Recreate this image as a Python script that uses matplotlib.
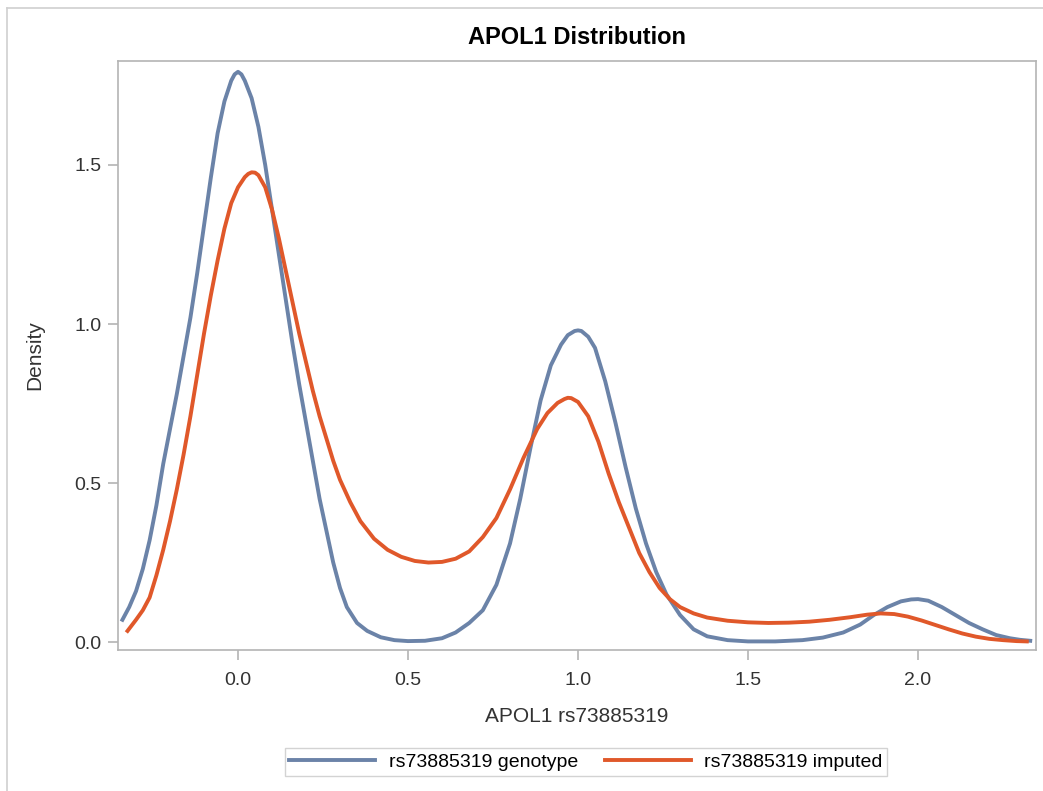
import matplotlib
matplotlib.use("Agg")
import matplotlib.pyplot as plt
from matplotlib.lines import Line2D

plt.rcParams['font.family'] = ['Liberation Sans', 'DejaVu Sans']

# density curves
geno_x = [-0.34, -0.32, -0.30, -0.28, -0.26, -0.24, -0.22, -0.20, -0.18, -0.16,
          -0.14, -0.12, -0.10, -0.08, -0.06, -0.04, -0.02, -0.01, 0.00, 0.01, 0.02, 0.04,
          0.06, 0.08, 0.10, 0.12, 0.14, 0.16, 0.18, 0.20, 0.22, 0.24,
          0.26, 0.28, 0.30, 0.32, 0.35, 0.38, 0.42, 0.46, 0.50, 0.55,
          0.60, 0.64, 0.68, 0.72, 0.76, 0.80, 0.83, 0.86, 0.89, 0.92,
          0.95, 0.97, 0.99, 1.00, 1.01, 1.03, 1.05, 1.08, 1.11, 1.14, 1.17, 1.20,
          1.23, 1.26, 1.30, 1.34, 1.38, 1.44, 1.50, 1.58, 1.66, 1.72,
          1.78, 1.83, 1.87, 1.91, 1.95, 1.98, 2.00, 2.03, 2.07, 2.11, 2.15,
          2.19, 2.23, 2.27, 2.30, 2.33]
geno_y = [0.07, 0.11, 0.16, 0.23, 0.32, 0.43, 0.56, 0.67, 0.78, 0.90,
          1.02, 1.16, 1.31, 1.46, 1.60, 1.70, 1.765, 1.785, 1.793, 1.785, 1.765, 1.71,
          1.62, 1.50, 1.36, 1.22, 1.08, 0.94, 0.81, 0.69, 0.57, 0.45,
          0.35, 0.25, 0.17, 0.11, 0.06, 0.035, 0.015, 0.006, 0.003, 0.004,
          0.012, 0.03, 0.06, 0.10, 0.18, 0.31, 0.45, 0.61, 0.76, 0.87,
          0.935, 0.965, 0.978, 0.98, 0.978, 0.96, 0.925, 0.82, 0.69, 0.55, 0.42, 0.31,
          0.22, 0.15, 0.085, 0.04, 0.018, 0.006, 0.002, 0.002, 0.006, 0.014,
          0.03, 0.055, 0.085, 0.11, 0.128, 0.134, 0.135, 0.13, 0.11, 0.085, 0.06,
          0.04, 0.022, 0.012, 0.007, 0.004]

imp_x = [-0.325, -0.30, -0.28, -0.26, -0.24, -0.22, -0.20, -0.18, -0.16, -0.14,
         -0.12, -0.10, -0.08, -0.06, -0.04, -0.02, 0.00, 0.02, 0.03, 0.04, 0.05, 0.06,
         0.08, 0.10, 0.12, 0.14, 0.16, 0.18, 0.20, 0.22, 0.24, 0.26,
         0.28, 0.30, 0.33, 0.36, 0.40, 0.44, 0.48, 0.52, 0.56, 0.60,
         0.64, 0.68, 0.72, 0.76, 0.80, 0.84, 0.88, 0.91, 0.94, 0.96, 0.97, 0.98,
         1.00, 1.03, 1.06, 1.09, 1.12, 1.15, 1.18, 1.21, 1.24, 1.27,
         1.30, 1.34, 1.38, 1.44, 1.50, 1.56, 1.62, 1.68, 1.74, 1.80,
         1.85, 1.89, 1.93, 1.97, 2.01, 2.05, 2.09, 2.13, 2.17, 2.21,
         2.25, 2.29, 2.32]
imp_y = [0.035, 0.07, 0.10, 0.14, 0.21, 0.29, 0.38, 0.48, 0.59, 0.71,
         0.84, 0.97, 1.09, 1.20, 1.30, 1.38, 1.43, 1.462, 1.472, 1.477, 1.476, 1.468,
         1.43, 1.36, 1.27, 1.17, 1.07, 0.97, 0.88, 0.79, 0.71, 0.64,
         0.57, 0.51, 0.44, 0.38, 0.325, 0.29, 0.268, 0.255, 0.25, 0.252,
         0.262, 0.285, 0.33, 0.39, 0.48, 0.58, 0.67, 0.72, 0.752, 0.764, 0.768, 0.767,
         0.755, 0.71, 0.63, 0.53, 0.44, 0.36, 0.28, 0.22, 0.17, 0.135,
         0.11, 0.09, 0.077, 0.067, 0.062, 0.06, 0.061, 0.064, 0.07, 0.078,
         0.086, 0.09, 0.088, 0.08, 0.068, 0.054, 0.04, 0.027, 0.017, 0.01,
         0.006, 0.003, 0.002]

xticks = [0.0, 0.5, 1.0, 1.5, 2.0]
yticks = [0.0, 0.5, 1.0, 1.5]

blue = "#6b83a8"
orange = "#e0582a"
grey = "#b4b4b4"
text_col = "#333333"

fig = plt.figure(figsize=(10.43, 7.91), dpi=100)
ax = fig.add_axes([118/1043, 1 - 650/791, (1036-118)/1043, (650-61)/791])

ax.plot(geno_x, geno_y, color=blue, lw=2.8, label="rs73885319 genotype")
ax.plot(imp_x, imp_y, color=orange, lw=2.8, label="rs73885319 imputed")

ax.set_xlim(-0.353, 2.347)
ax.set_ylim(-0.025, 1.827)
ax.set_xticks(xticks)
ax.set_xticklabels(["%.1f" % t for t in xticks])
ax.set_yticks(yticks)
ax.set_yticklabels(["%.1f" % t for t in yticks])
ax.tick_params(length=7, width=1.2, color=grey, labelsize=14, labelcolor=text_col)
ax.tick_params(axis="x", pad=9)
ax.tick_params(axis="y", pad=5)
for s in ax.spines.values():
    s.set_color(grey)
    s.set_linewidth(1.2)

ax.set_xlabel("APOL1 rs73885319", fontsize=15, color=text_col)
ax.xaxis.set_label_coords(0.5, (650 - 716) / 589, transform=ax.transAxes)
ax.xaxis.label.set_va("center")
ax.set_ylabel("Density", fontsize=15, color=text_col)
ax.yaxis.set_label_coords((35 - 118) / 918, 0.5, transform=ax.transAxes)
ax.yaxis.label.set_va("center")

fig.text(577/1043, 1 - 38/791, "APOL1 Distribution", fontsize=17, fontweight="bold",
         ha="center", va="center")

fig.legend(loc="center", bbox_to_anchor=(586/1043, 1 - 762/791), ncol=2,
           fontsize=14, frameon=True, fancybox=False, edgecolor="#c8c8c8",
           handlelength=4.4, columnspacing=1.4, borderpad=0.25, handletextpad=0.7)

# outer frame of the graph
fig.add_artist(Line2D([7/1043, 1], [1 - 8/791, 1 - 8/791], color="#d0d0d0", lw=1.2))
fig.add_artist(Line2D([7/1043, 7/1043], [0, 1 - 8/791], color="#d0d0d0", lw=1.2))

fig.savefig("out.png", dpi=100)
